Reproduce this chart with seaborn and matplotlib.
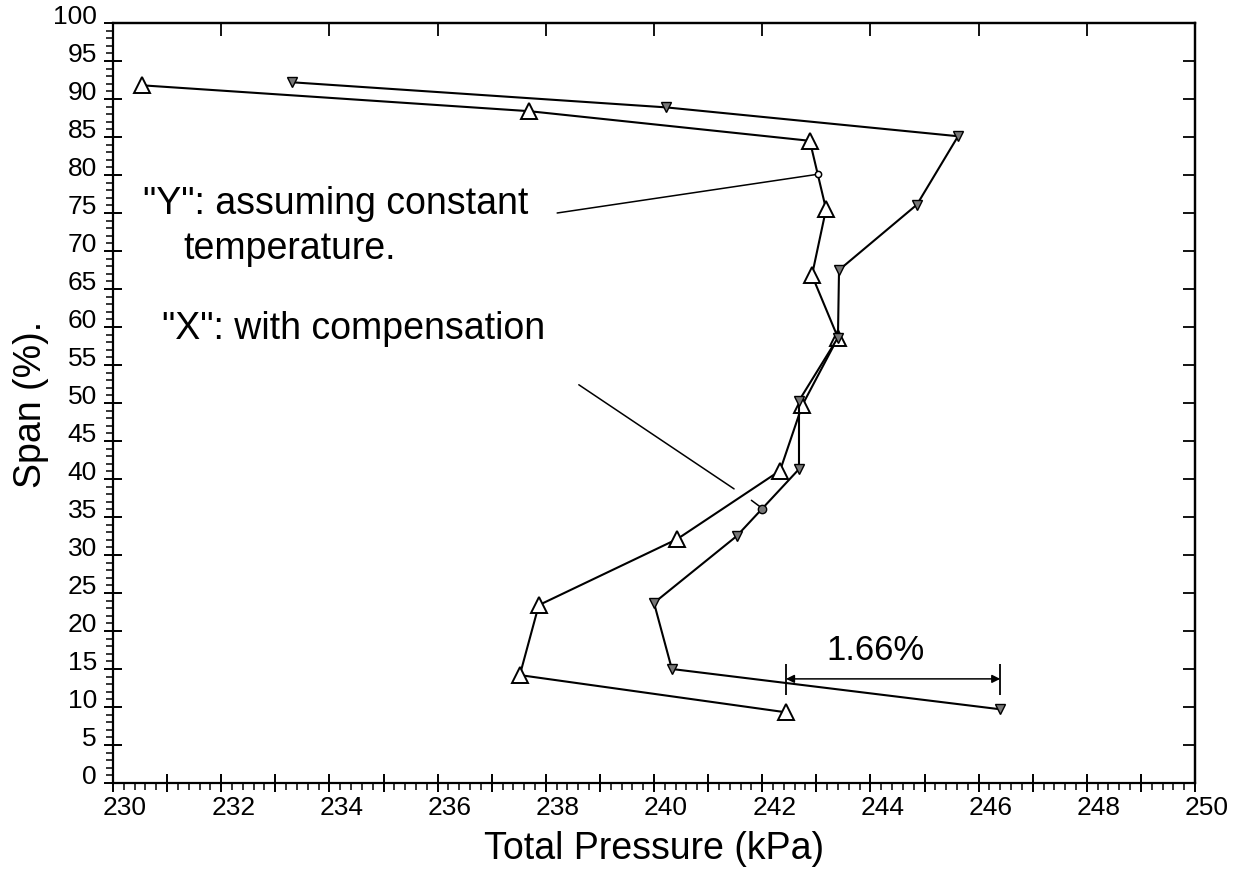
import matplotlib
matplotlib.use("Agg")
import matplotlib.pyplot as plt
import matplotlib.transforms as mtrans
from matplotlib.ticker import MultipleLocator, FuncFormatter, NullFormatter
import pandas as pd
import seaborn as sns

# "Y": total pressure assuming constant temperature (open up-triangles)
span_const_temp = [91.8, 88.4, 84.5, 75.5, 66.8, 58.6, 49.7, 41.1, 32.1, 23.4, 14.2, 9.3]
pressure_const_temp = [230.54, 237.69, 242.88, 243.18, 242.92, 243.40, 242.74, 242.33,
                       240.43, 237.87, 237.52, 242.44]

# "X": total pressure with compensation (small down-triangles)
span_compensated = [92.2, 88.9, 85.1, 76.1, 67.5, 58.6, 50.3, 41.3, 32.5, 23.7, 15.0, 9.7]
pressure_compensated = [233.31, 240.22, 245.62, 244.86, 243.42, 243.40, 242.68, 242.68,
                        241.53, 240.00, 240.33, 246.40]

x_range = (230, 250)
y_range = (0, 100)
difference_label = "1.66%"

sns.set_theme(style="ticks")
plt.rcParams["font.family"] = ["Liberation Sans", "DejaVu Sans"]

W, H = 1251, 870
fig = plt.figure(figsize=(W / 100, H / 100), dpi=100)
ax = fig.add_axes([113 / W, 1 - 784 / H, (1195 - 113) / W, (784 - 24) / H])

df_y = pd.DataFrame({"p": pressure_const_temp, "s": span_const_temp})
df_x = pd.DataFrame({"p": pressure_compensated, "s": span_compensated})

sns.lineplot(data=df_y, x="p", y="s", sort=False, estimator=None, ax=ax,
             color="black", lw=1.5, marker="^", markersize=11,
             markerfacecolor="white", markeredgecolor="black", markeredgewidth=1.4)
sns.lineplot(data=df_x, x="p", y="s", sort=False, estimator=None, ax=ax,
             color="black", lw=1.5, marker="v", markersize=7,
             markerfacecolor="#777777", markeredgecolor="black", markeredgewidth=1.0)

ax.set_xlim(*x_range)
ax.set_ylim(*y_range)

# axis ticks: 1 kPa majors labelled every 2 kPa, 5 % majors on span
ax.xaxis.set_major_locator(MultipleLocator(1))
ax.xaxis.set_minor_locator(MultipleLocator(0.2))
ax.xaxis.set_major_formatter(FuncFormatter(lambda v, p: f"{v:.0f}" if round(v) % 2 == 0 else ""))
ax.yaxis.set_major_locator(MultipleLocator(5))
ax.yaxis.set_minor_locator(MultipleLocator(1))
ax.yaxis.set_major_formatter(FuncFormatter(lambda v, p: f"{v:.0f}"))

ax.tick_params(which="major", direction="inout", length=13, width=1.4, labelsize=19,
               color="black", labelcolor="black", top=False, right=False)
ax.tick_params(which="minor", direction="out", length=5, width=1.1, color="black",
               top=False, right=False)
ax.tick_params(axis="y", which="major", pad=5)
ax.tick_params(axis="x", which="major", pad=2)
for t in ax.xaxis.get_majorticklabels():
    t.set_transform(t.get_transform() + mtrans.ScaledTranslation(0.12, 0, fig.dpi_scale_trans))
for t in ax.yaxis.get_majorticklabels():
    t.set_verticalalignment("baseline")

# inward ticks on the top and right frame edges
top = ax.secondary_xaxis("top")
top.xaxis.set_major_locator(MultipleLocator(2))
top.xaxis.set_major_formatter(NullFormatter())
top.tick_params(direction="in", length=9, width=1.3, color="black")
right = ax.secondary_yaxis("right")
right.yaxis.set_major_locator(MultipleLocator(5))
right.yaxis.set_major_formatter(NullFormatter())
right.tick_params(direction="in", length=9, width=1.3, color="black")

for a in (ax, top, right):
    for side in a.spines:
        a.spines[side].set_linewidth(1.6)
        a.spines[side].set_color("black")
for side in ["left", "right", "top", "bottom"]:
    ax.spines[side].set_visible(True)

ax.set_xlabel("Total Pressure (kPa)", fontsize=27, labelpad=8, color="black")
ax.set_ylabel("Span (%).", fontsize=27, labelpad=3, color="black")

# annotation for the constant-temperature curve
ax.text(230.56, 76.3, '"Y": assuming constant', fontsize=27, va="center", ha="left", color="black")
ax.text(231.30, 70.4, "temperature.", fontsize=27, va="center", ha="left", color="black")
ax.plot([238.21, 243.03], [75.0, 80.1], color="black", lw=1.1)
ax.plot([243.03], [80.1], marker="o", ms=4.5, mfc="white", mec="black", mew=1.1)

# annotation for the compensated curve
ax.text(230.90, 59.9, '"X": with compensation', fontsize=27, va="center", ha="left", color="black")
ax.plot([238.61, 241.48], [52.4, 38.7], color="black", lw=1.1)
ax.plot([241.80, 241.97], [37.2, 36.3], color="black", lw=1.1)
ax.plot([242.0], [36.05], marker="o", ms=6, mfc="#777777", mec="black", mew=1.0)

# pressure difference between the two curves at the bottom station
x_left, x_right = pressure_const_temp[-1], pressure_compensated[-1]
ax.annotate("", xy=(x_left, 13.7), xytext=(x_right, 13.7),
            arrowprops=dict(arrowstyle="<|-|>", color="black", lw=1.1,
                            mutation_scale=12, shrinkA=0, shrinkB=0))
ax.vlines([x_left, x_right], 11.6, 15.6, color="black", lw=1.3)
ax.text(244.1, 17.5, difference_label, fontsize=25,
        ha="center", va="center", color="black")

fig.savefig("out.png", dpi=100, facecolor="white")
